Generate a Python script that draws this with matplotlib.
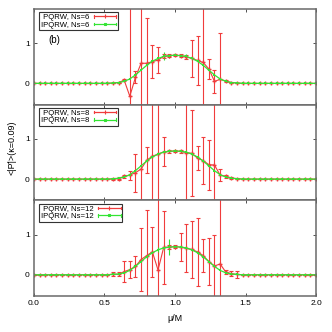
"""
    Three stacked panels: <|P|> vs mu/M for PQRW and IPQRW at Ns = 6, 8, 12.
"""

# ------ Environment Setup ------ #
import numpy as np                          # array manipulation
import matplotlib
matplotlib.use("Agg")
import matplotlib.pyplot as plt             # plotting
from matplotlib.lines import Line2D
from matplotlib.legend_handler import HandlerBase

plt.rcParams['font.family'] = ['Liberation Sans', 'DejaVu Sans']


# ------ Data ------ #
# grid of mu/M values, step 0.04 from 0 to 2
mu = np.linspace(0.0, 2.0, 51)

ns_labels = ["6", "8", "12"]

# IPQRW curve (same shape in every panel)
ipqrw = [0, 0, 0, 0, 0, 0, 0, 0, 0, 0, 0, 0, 0, 0,
         0.01, 0.02, 0.05, 0.11, 0.21, 0.33, 0.45, 0.55, 0.62, 0.67, 0.69,
         0.70,
         0.69, 0.67, 0.62, 0.55, 0.45, 0.33, 0.21, 0.11, 0.05, 0.02, 0.01,
         0, 0, 0, 0, 0, 0, 0, 0, 0, 0, 0, 0, 0, 0]

ipqrw_err_6 = [0] * 20 + [0.02, 0.03, 0.04, 0.10, 0.05, 0.03, 0.03, 0.07,
                          0.04, 0.03, 0.02] + [0] * 20
ipqrw_err_8 = [0] * 20 + [0.02, 0.03, 0.05, 0.05, 0.04, 0.04, 0.04, 0.05,
                          0.04, 0.03, 0.02] + [0] * 20
ipqrw_err_12 = [0] * 20 + [0.02, 0.04, 0.06, 0.06, 0.20, 0.05, 0.05, 0.05,
                           0.04, 0.03, 0.02] + [0] * 20

# PQRW curves
pqrw_6 = [0, 0, 0, 0, 0, 0, 0, 0, 0, 0, 0, 0, 0, 0,
          0.01, 0.02, 0.08, -0.32, 0.15, 0.50, 0.50, 0.54, 0.58, 0.67, 0.69,
          0.70,
          0.69, 0.66, 0.62, 0.57, 0.52, 0.36, 0.05, 0.10, 0.06, 0.02, 0.01,
          0, 0, 0, 0, 0, 0, 0, 0, 0, 0, 0, 0, 0, 0]
pqrw_err_6 = [0] * 14 + [0.01, 0.02, 0.03, 3.0, 0.15, 3.0, 1.12, 0.41, 0.33,
                         0.05, 0.03, 0.03, 0.03, 0.05, 0.45, 0.60, 3.0, 0.24,
                         0.28, 1.15, 0.02, 0.01, 0.01] + [0] * 14

pqrw_8 = [0, 0, 0, 0, 0, 0, 0, 0, 0, 0, 0, 0, 0, 0,
          0.0, 0.01, 0.07, 0.10, 0.16, 0.25, 0.47, 0.57, 0.62, 0.68, 0.69,
          0.70,
          0.69, 0.66, 0.64, 0.52, 0.46, 0.36, 0.35, 0.10, 0.07, 0.03, 0.01,
          0, 0, 0, 0, 0, 0, 0, 0, 0, 0, 0, 0, 0, 0]
pqrw_err_8 = [0] * 14 + [0.02, 0.03, 0.04, 0.11, 0.47, 3.0, 0.33, 3.0, 3.0,
                         0.36, 0.04, 0.03, 0.04, 3.0, 1.07, 0.30, 0.58, 0.62,
                         3.0, 0.14, 0.04, 0.03, 0.01] + [0] * 14

pqrw_12 = [0, 0, 0, 0, 0, 0, 0, 0, 0, 0, 0, 0, 0, 0,
           0.02, 0.01, 0.08, 0.13, 0.21, 0.38, 0.48, 0.57, 0.12, 0.68, 0.69,
           0.70,
           0.69, 0.66, 0.63, 0.57, 0.48, 0.33, 0.22, 0.27, 0.07, 0.03, 0.01,
           0, 0, 0, 0, 0, 0, 0, 0, 0, 0, 0, 0, 0, 0]
pqrw_err_12 = [0] * 14 + [0.05, 0.05, 0.27, 0.22, 0.27, 0.78, 1.13, 0.62, 3.0,
                          0.90, 0.05, 0.03, 0.34, 0.60, 0.70, 0.84, 0.42, 0.58,
                          0.77, 3.0, 0.04, 0.06, 0.09] + [0] * 14

pqrw_sets = [(pqrw_6, pqrw_err_6), (pqrw_8, pqrw_err_8), (pqrw_12, pqrw_err_12)]
ipqrw_errs = [ipqrw_err_6, ipqrw_err_8, ipqrw_err_12]


# ------ Legend helper ------ #
"""
    gnuplot style key sample: horizontal line with small caps at both ends
    and the point symbol in the middle.
"""
class HandlerCapLine(HandlerBase):
    def create_artists(self, legend, orig_handle, xdescent, ydescent,
                       width, height, fontsize, trans):
        y = height / 2.0 - ydescent
        x0, x1 = -xdescent, width - xdescent
        c = orig_handle.get_color()
        cap = 0.22 * height
        arts = [Line2D([x0, x1], [y, y], color=c, lw=0.9),
                Line2D([x0, x0], [y - cap, y + cap], color=c, lw=0.8),
                Line2D([x1, x1], [y - cap, y + cap], color=c, lw=0.8),
                Line2D([(x0 + x1) / 2], [y], color=c, ls='none',
                       marker=orig_handle.get_marker(),
                       ms=orig_handle.get_markersize(), mew=0.8)]
        for a in arts:
            a.set_transform(trans)
        return arts


# ------ Plotting ------ #
RED = '#f03c3c'
GREEN = '#33e433'
FRAME = '#6a6a6a'

fig, axes = plt.subplots(3, 1, figsize=(3.32, 3.32), dpi=100, sharex=True)
fig.subplots_adjust(left=0.102, right=0.952, top=0.973, bottom=0.108, hspace=0)

for ax, ns, (red_y, red_err), green_err in zip(axes, ns_labels, pqrw_sets, ipqrw_errs):
    ax.errorbar(mu, red_y, yerr=red_err, color=RED, lw=0.8, elinewidth=0.8,
                capsize=1.3, capthick=0.8, marker='+', ms=2.5)
    ax.errorbar(mu, ipqrw, yerr=green_err, color=GREEN, lw=0.9, elinewidth=0.8,
                capsize=1.3, capthick=0.8, marker='s', ms=2.0, mew=0)

    ax.set_xlim(0, 2)
    ax.set_ylim(-0.53, 1.85)
    ax.set_xticks([0, 0.5, 1.0, 1.5, 2.0])
    ax.set_yticks([0, 1])
    ax.tick_params(direction='in', length=2.5, width=0.6, color='#333333',
                   top=True, right=True, labelsize=6, pad=3)
    for sp in ax.spines.values():
        sp.set_color(FRAME)
        sp.set_linewidth(1.1)

    # key
    red_key = Line2D([], [], color=RED, marker='+', ms=2.5)
    green_key = Line2D([], [], color=GREEN, marker='s', ms=2.0)
    leg = ax.legend([red_key, green_key],
                    [" PQRW, Ns=" + ns, "IPQRW, Ns=" + ns],
                    handler_map={Line2D: HandlerCapLine()},
                    loc='upper left', bbox_to_anchor=(0.019, 0.966),
                    borderaxespad=0, fontsize=5.6, markerfirst=False,
                    fancybox=False, framealpha=1, edgecolor='#333333',
                    handlelength=2.9, handletextpad=0.6, labelspacing=0.0,
                    borderpad=0.2)
    leg.get_frame().set_linewidth(0.8)

axes[-1].set_xticklabels(["0.0", "0.5", "1.0", "1.5", "2.0"])
axes[-1].set_xlabel("\u03bc/M", fontsize=6.5, labelpad=5)

axes[0].text(0.10, 1.08, "(b)", fontsize=7, ha='left', va='center')

fig.text(0.036, 0.554, "<|P\u0304|>(\u03ba=0.09)", rotation=90, fontsize=6.5,
         ha='center', va='center')

plt.savefig("out.png", dpi=100)
